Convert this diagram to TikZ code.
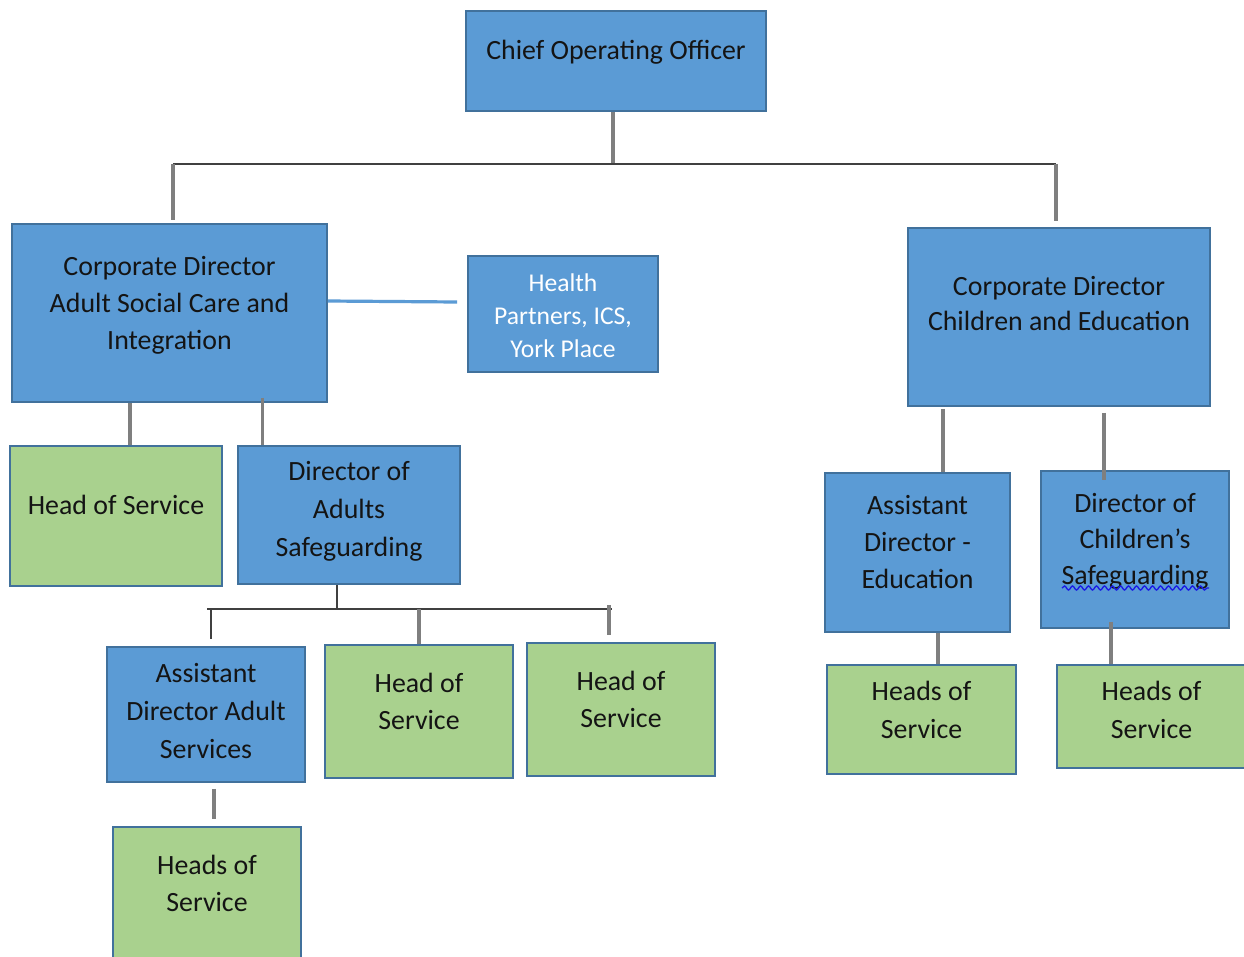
\documentclass[tikz,border=0pt]{standalone}
\usepackage{fontspec}
\setmainfont{Carlito}
\usetikzlibrary{positioning}
\usetikzlibrary{decorations.pathmorphing}

\definecolor{boxblue}{HTML}{5B9BD5}
\definecolor{boxgreen}{HTML}{A9D18E}
\definecolor{boxedge}{HTML}{41719C}
\definecolor{linegray}{HTML}{7F7F7F}
\definecolor{busdark}{HTML}{404040}
\definecolor{textdark}{HTML}{141414}
\definecolor{spellblue}{HTML}{1A1AE6}

\begin{document}
\begin{tikzpicture}[x=0.75pt,y=-0.75pt,
    box/.style={draw=boxedge, line width=1.3pt, inner sep=0pt},
    bluebox/.style={box, fill=boxblue},
    greenbox/.style={box, fill=boxgreen},
    boxsize/.style 2 args={minimum width=#1*0.75pt, minimum height=#2*0.75pt},
    boxtext/.style={align=center, inner sep=0pt, text=textdark,
      font=\fontsize{20.9}{27.75}\selectfont},
    smalltext/.style={boxtext, text=white, font=\fontsize{19.2}{24.75}\selectfont},
    link/.style={linegray, line width=2.4pt},
    bus/.style={busdark, line width=1.9pt},
    bluelink/.style={boxblue, line width=2.4pt},
    spell/.style={spellblue, line width=1pt, decorate,
      decoration={snake, amplitude=1.5pt, segment length=6pt}}]

    % page
    \fill[white] (0,0) rectangle (1244,956);
    \useasboundingbox (0,0) rectangle (1244,956);

    % boxes
    \node[bluebox, boxsize={300}{100},
      label={[boxtext, yshift=6.75pt]center:Chief Operating Officer}] (coo) at (616,61) {};
    \node[bluebox, boxsize={315}{178},
      label={[boxtext, yshift=6pt]center:Corporate Director\\Adult Social Care and\\Integration}] (cdasc) at (169.5,313) {};
    \node[bluebox, boxsize={190}{116},
      label={[smalltext, yshift=-1.5pt]center:{Health\\Partners, ICS,\\York Place}}] (health) at (563,314) {};
    \node[bluebox, boxsize={302}{178},
      label={[boxtext, yshift=9.75pt, font=\fontsize{20.9}{26.25}\selectfont]center:Corporate Director\\Children and Education}] (cdce) at (1059,317) {};

    \node[greenbox, boxsize={212}{140},
      label={[boxtext, yshift=8.25pt]center:Head of Service}] (hos1) at (116,516) {};
    \node[bluebox, boxsize={222}{138},
      label={[boxtext, yshift=3pt, font=\fontsize{20.9}{28.5}\selectfont]center:Director of\\Adults\\Safeguarding}] (das) at (349,515) {};

    \node[bluebox, boxsize={198}{135},
      label={[boxtext, yshift=2.25pt, font=\fontsize{20.9}{28.5}\selectfont]center:Assistant\\Director Adult\\Services}] (adas) at (206,714.5) {};
    \node[greenbox, boxsize={188}{133},
      label={[boxtext, yshift=7.9pt]center:Head of\\Service}] (hos2) at (419,711.5) {};
    \node[greenbox, boxsize={188}{133},
      label={[boxtext, yshift=7.9pt]center:Head of\\Service}] (hos3) at (621,709.5) {};
    \node[greenbox, boxsize={188}{133},
      label={[boxtext, yshift=7.9pt]center:Heads of\\Service}] (hos4) at (207,893.5) {};

    \node[bluebox, boxsize={185}{159},
      label={[boxtext, yshift=7.75pt]center:Assistant\\Director -\\Education}] (ade) at (917.5,552.5) {};
    \node[bluebox, boxsize={188}{157},
      label={[boxtext, yshift=6pt, font=\fontsize{20.9}{27}\selectfont]center:Director of\\Children’s\\Safeguarding}] (dcs) at (1135,549.5) {};
    \node[greenbox, boxsize={189}{109},
      label={[boxtext, yshift=7.1pt, font=\fontsize{20.9}{28.5}\selectfont]center:Heads of\\Service}] (hos5) at (921.5,719.5) {};
    \node[greenbox, boxsize={189}{103},
      label={[boxtext, yshift=4.9pt, font=\fontsize{20.9}{28.5}\selectfont]center:Heads of\\Service}] (hos6) at (1151.5,716.5) {};

    % spelling mark
    \draw[spell] (1062,588) -- (1209,588);

    % top level
    \coordinate (cootop) at ([xshift=-2.25pt]coo.south);
    \coordinate (busL) at (173,164);
    \coordinate (busR) at (1056,164);
    \draw[link] (cootop) -- (cootop |- busL);
    \draw[bus] (busL) -- (busR);
    \draw[link, shorten >=2.25pt] (busL) -- (busL |- cdasc.north);
    \draw[link, shorten >=4.5pt] (busR) -- (busR |- cdce.north);
    \draw[bluelink] ([yshift=9pt]cdasc.east) -- ([xshift=-7.5pt,yshift=9pt]health.west);

    % adult side
    \coordinate (hos1top) at ([xshift=10.5pt]hos1.north);
    \coordinate (dastop) at ([xshift=18.75pt]das.north west);
    \draw[link] (hos1top |- cdasc.south) -- (hos1top);
    \draw[link, shorten <=-3.75pt] (dastop |- cdasc.south) -- (dastop);

    \coordinate (dasbot) at ([xshift=-9pt]das.south);
    \coordinate (bus2L) at (207,609);
    \coordinate (bus2R) at (612,609);
    \draw[bus] (dasbot) -- (dasbot |- bus2L);
    \draw[bus] (bus2L) -- (bus2R);
    \coordinate (adastop) at ([xshift=3.75pt]adas.north);
    \coordinate (hos3top) at ([xshift=-9pt]hos3.north);
    \draw[bus, shorten >=5.25pt] (adastop |- bus2L) -- (adastop);
    \draw[link] (hos2.north |- bus2L) -- (hos2.north);
    \draw[link, shorten <=-3pt, shorten >=5.25pt] (hos3top |- bus2L) -- (hos3top);
    \coordinate (hos4top) at ([xshift=5.25pt]hos4.north);
    \draw[link, shorten <=4.5pt, shorten >=5.25pt] (hos4top |- adas.south) -- (hos4top);

    % children side
    \coordinate (adetop) at ([xshift=19.1pt]ade.north);
    \coordinate (dcstop) at ([xshift=-23.25pt]dcs.north);
    \draw[link, shorten <=1.5pt] (adetop |- cdce.south) -- (adetop);
    \draw[link, shorten <=4.5pt, shorten >=-7.5pt] (dcstop |- cdce.south) -- (dcstop);
    \coordinate (hos5top) at ([xshift=12.4pt]hos5.north);
    \coordinate (hos6top) at ([xshift=-30.4pt]hos6.north);
    \draw[link] (hos5top |- ade.south) -- (hos5top);
    \draw[link, shorten <=-5.25pt] (hos6top |- dcs.south) -- (hos6top);

\end{tikzpicture}
\end{document}
